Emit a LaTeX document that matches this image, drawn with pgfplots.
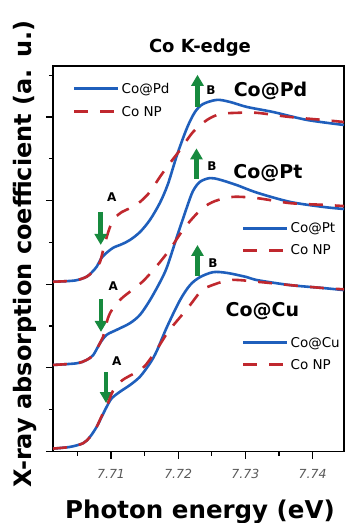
\documentclass[border=0pt]{standalone}
\usepackage{fontspec}
\setmainfont{DejaVu Sans}
\usepackage{pgfplots}
\pgfplotsset{compat=1.18}
\usetikzlibrary{arrows.meta}
\definecolor{cblue}{HTML}{1F5FBC}
\definecolor{cred}{HTML}{C0282E}
\definecolor{cgreen}{HTML}{178A3E}
\pgfplotsset{
  base/.style={at={(0,0)}, anchor=south west, scale only axis,
    width=291pt, height=385.5pt, xmin=1.37, xmax=44.67, ymin=0, ymax=9.22},
  bl/.style={line width=2.6pt, cblue, smooth, tension=0.5},
  rd/.style={line width=2.6pt, cred, smooth, tension=0.5, dash pattern=on 14pt off 12pt},
  leg/.style 2 args={legend style={draw=none, fill=none, inner sep=0pt, outer sep=0pt,
      at={(axis description cs:#1)}, anchor=north west,
      font=\fontsize{13.5pt}{16pt}\selectfont, column sep=0pt, row sep=#2,
      cells={text height=11pt, text depth=2pt}},
    legend cell align=left,
    legend image code/.code={\draw[##1] (0pt,0pt) -- (44pt,0pt);}},
}
\tikzset{arr/.style={cgreen, line width=4.5pt, -{Triangle[width=12pt,length=11pt]}},
  lab/.style={font=\fontsize{19pt}{21pt}\selectfont\bfseries, anchor=base},
  ab/.style={font=\fontsize{12pt}{14pt}\selectfont\bfseries, anchor=base}}
\begin{document}
\begin{tikzpicture}
\begin{axis}[base, leg={0.0687,0.9636}{7pt},
  xtick={10,20,30,40}, xticklabels={7.71,7.72,7.73,7.74},
  minor xtick={5,15,25,35},
  ytick={0,2,4,6,8}, yticklabels={}, minor ytick={1,3,5,7,9},
  tick pos=left, tick align=outside,
  major tick length=7pt, minor tick length=4pt,
  every tick/.style={black, line width=1.2pt},
  axis line style={line width=1.3pt},
  xticklabel style={font=\fontsize{12.5pt}{14pt}\selectfont\itshape, text=black!65, anchor=base, yshift=-20pt},
  title={Co K-edge}, xlabel={Photon energy (eV)},
  ylabel={X-ray absorption coefficient (a. u.)},
  every axis title/.style={at={(axis description cs:0.505,1)}, anchor=base, yshift=13.5pt,
    font=\fontsize{18pt}{20pt}\selectfont\bfseries},
  every axis x label/.style={at={(axis description cs:0.505,0)}, anchor=base, yshift=-66.5pt,
    font=\fontsize{24.5pt}{26pt}\selectfont\bfseries},
  every axis y label/.style={at={(axis description cs:-0.0722,0.512)}, rotate=90, anchor=base,
    font=\fontsize{24pt}{26pt}\selectfont\bfseries},
]
\addplot[bl] coordinates {(1.37,4.06) (4.64,4.09) (6.38,4.18) (7.17,4.29) (7.87,4.42) (8.51,4.61) (9.11,4.72) (10.30,4.87) (11.64,4.96) (12.83,5.06) (14.32,5.25) (15.80,5.54) (17.29,5.95) (18.48,6.40) (19.82,7.09) (21.31,7.74) (22.50,8.12) (23.69,8.31) (25.77,8.41) (27.71,8.36) (30.24,8.24) (34.11,8.12) (39.17,7.93) (44.67,7.81)};
\addlegendentry{Co@Pd}
\addplot[rd] coordinates {(1.37,4.06) (4.64,4.09) (6.38,4.18) (7.17,4.29) (7.87,4.42) (8.36,4.53) (9.11,4.99) (9.85,5.37) (10.60,5.59) (11.64,5.73) (12.83,5.82) (14.32,5.97) (15.80,6.21) (17.29,6.57) (18.78,6.90) (20.27,7.21) (22.20,7.64) (24.29,7.93) (26.22,8.07) (28.75,8.10) (31.73,8.10) (36.64,8.00) (41.55,7.93) (44.67,7.88)};
\addlegendentry{Co NP}
\node[lab] at (axis cs:33.74,8.48) {Co@Pd};
\node[lab] at (axis cs:33.36,6.52) {Co@Pt};
\node[lab] at (axis cs:32.54,3.22) {Co@Cu};
\node[ab] at (axis cs:10.10,5.99) {A};
\node[ab] at (axis cs:10.34,3.84) {A};
\node[ab] at (axis cs:10.85,2.05) {A};
\node[ab] at (axis cs:24.88,8.53) {B};
\node[ab] at (axis cs:25.03,6.73) {B};
\node[ab] at (axis cs:25.18,4.41) {B};
\draw[arr] (axis cs:8.47,5.73) -- (axis cs:8.47,4.94);
\draw[arr] (axis cs:8.51,3.65) -- (axis cs:8.51,2.86);
\draw[arr] (axis cs:9.26,1.90) -- (axis cs:9.26,1.16);
\draw[arr] (axis cs:22.87,8.24) -- (axis cs:22.87,9.01);
\draw[arr] (axis cs:22.72,6.52) -- (axis cs:22.72,7.25);
\draw[arr] (axis cs:22.87,4.20) -- (axis cs:22.87,4.94);
\end{axis}
\begin{axis}[base, hide axis, leg={0.6495,0.6006}{5.5pt}]
\addplot[bl] coordinates {(1.37,2.07) (4.90,2.11) (6.38,2.19) (7.37,2.31) (8.36,2.59) (9.36,2.79) (10.85,2.91) (12.83,3.07) (14.32,3.27) (15.80,3.62) (17.29,4.05) (18.33,4.41) (19.82,5.14) (21.31,5.85) (22.20,6.23) (23.24,6.45) (24.73,6.54) (26.22,6.50) (28.75,6.37) (31.73,6.19) (36.64,5.97) (41.55,5.85) (44.67,5.80)};
\addlegendentry{Co@Pt}
\addplot[rd] coordinates {(1.37,2.07) (4.90,2.11) (6.38,2.19) (7.37,2.31) (8.36,2.59) (8.81,2.74) (9.55,3.19) (10.30,3.43) (11.64,3.67) (13.13,3.86) (14.61,4.05) (15.80,4.25) (17.29,4.53) (18.78,4.84) (20.71,5.30) (22.20,5.59) (23.69,5.83) (25.48,5.99) (28.15,6.09) (31.73,6.06) (36.64,5.94) (41.55,5.90) (44.67,5.87)};
\addlegendentry{Co NP}
\end{axis}
\begin{axis}[base, hide axis, leg={0.6495,0.3048}{5.5pt}]
\addplot[bl] coordinates {(1.37,0.07) (3.90,0.11) (5.88,0.20) (6.88,0.35) (7.87,0.59) (8.62,0.83) (9.36,1.07) (10.10,1.27) (11.34,1.43) (12.83,1.59) (14.32,1.79) (15.80,2.11) (16.80,2.40) (18.33,2.98) (20.27,3.62) (21.76,3.98) (23.24,4.17) (25.22,4.29) (27.31,4.27) (30.24,4.17) (31.73,4.10) (36.64,3.98) (41.55,3.91) (44.67,3.86)};
\addlegendentry{Co@Cu}
\addplot[rd] coordinates {(1.37,0.07) (3.90,0.11) (5.88,0.20) (6.88,0.35) (7.87,0.59) (8.62,0.85) (9.55,1.16) (10.30,1.45) (11.64,1.70) (13.57,1.88) (15.06,2.05) (16.85,2.45) (18.48,2.86) (20.27,3.21) (21.76,3.50) (23.24,3.81) (24.29,3.93) (27.71,4.10) (31.73,4.06) (36.64,3.98) (41.55,3.91) (44.67,3.88)};
\addlegendentry{Co NP}
\end{axis}
\pgfresetboundingbox
\path[use as bounding box] (-53pt,-71.5pt) rectangle (294pt,451.5pt);
\end{tikzpicture}
\end{document}
